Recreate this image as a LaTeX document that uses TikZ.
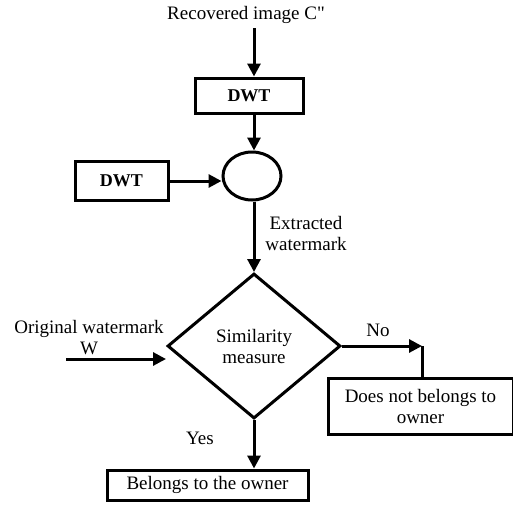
\documentclass[tikz,border=0pt]{standalone}
\usepackage{fontspec}
\setmainfont{Liberation Serif}[Ligatures=TeXOff]
\usetikzlibrary{shapes.geometric,arrows.meta}

\begin{document}
\begin{tikzpicture}[x=1pt,y=-1pt,
    line width=3pt,
    every node/.style={font=\fontsize{19}{21}\selectfont},
    box/.style={draw,rectangle,inner sep=0pt},
    arr/.style={-{Triangle[length=13pt,width=13pt]}}]
    \useasboundingbox (0,0) rectangle (513,506);
    % main column
    \node (rec) at (246,15) {Recovered image C"};
    \node[box,minimum width=108,minimum height=35,font=\fontsize{18}{21}\selectfont\bfseries] (dwta) at (249,95.5) {DWT};
    \node[draw,ellipse,minimum width=58,minimum height=48,inner sep=0pt] (sum) at (252,176) {};
    \node[box,minimum width=93,minimum height=39,font=\fontsize{18}{21}\selectfont\bfseries] (dwtb) at (121.5,181) {DWT};
    \node[align=center] (ext) at (306,233) {Extracted\\watermark};
    \node[draw,diamond,minimum width=173,minimum height=145,inner sep=0pt,align=center] (sim) at (254,346) {Similarity\\measure};
    \node[align=center] (orig) at (89,338) {Original watermark\\W};
    \coordinate (win) at (66,359);
    \node (no) at (378,330) {No};
    \coordinate (turn) at (422,346);
    \node[box,minimum width=185,minimum height=56,align=center] (notown) at (420.5,406) {Does not belongs to\\owner};
    \node (yes) at (200,438) {Yes};
    \node[box,minimum width=201,minimum height=30] (own) at (207.5,485) {Belongs to the owner};
    % connectors
    \draw[arr] (rec.south -| sim.north) -- (dwta.north -| sim.north);
    \draw[arr] (dwta.south -| sim.north) -- (sum.north -| sim.north);
    \draw[arr] (dwtb.east) -- (dwtb.east -| sum.west);
    \draw[arr] (sum.south -| sim.north) -- (sim.north);
    \draw[arr] (win) -- (win -| sim.west);
    \draw[arr] (sim.east) -- (turn);
    \draw (turn) -- (notown.north -| turn);
    \draw[arr] (sim.south) -- (own.north -| sim.south);
  \end{tikzpicture}
\end{document}
